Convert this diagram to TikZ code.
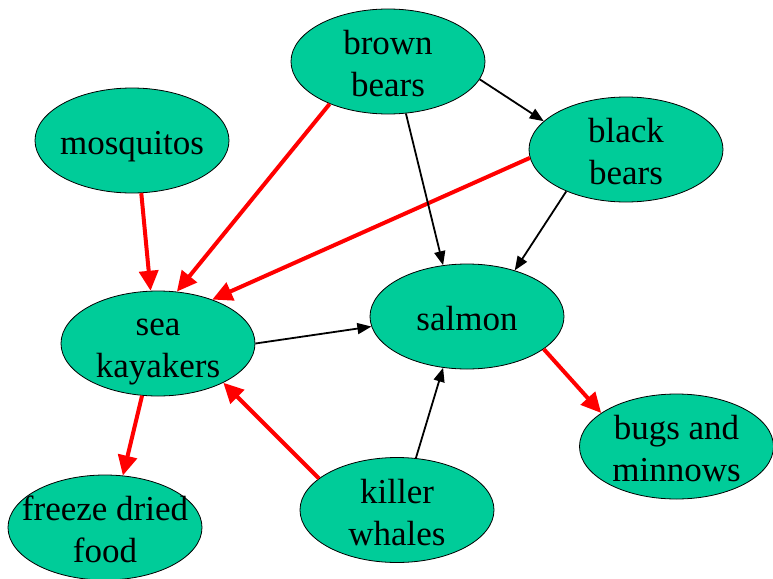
\documentclass[tikz,border=0pt]{standalone}
\usepackage{fontspec}
\setmainfont{Liberation Serif}
\usetikzlibrary{shapes.geometric,arrows.meta}
\definecolor{nodegreen}{RGB}{0,204,153}
\newcommand{\mystrut}{\rule[-6.5pt]{0pt}{38pt}}
\begin{document}
\begin{tikzpicture}[x=1pt,y=-1pt,
  ell/.style={ellipse, draw=black, line width=0.8pt, fill=nodegreen,
    minimum width=194pt, minimum height=105pt, inner sep=0pt},
  txt/.style={align=center, inner sep=0pt, yshift=-1.5pt, font=\fontsize{35}{42}\selectfont},
  redarrow/.style={draw=red, line width=4pt, -{Triangle[length=20pt,width=19pt]}},
  blackarrow/.style={draw=black, line width=1.8pt, -{Triangle[length=14pt,width=11pt]}}]
\useasboundingbox (0,0) rectangle (773,578);

\node[ell] (bb) at (388,61.5) {};
\node[txt] (bbt) at (bb) {\mystrut brown\\\mystrut bears};
\node[ell] (mq) at (132,140.5) {};
\node[txt] (mqt) at (mq) {\mystrut mosquitos};
\node[ell] (kb) at (626,149.5) {};
\node[txt] (kbt) at (kb) {\mystrut black\\\mystrut bears};
\node[ell] (sk) at (158,343.5) {};
\node[txt] (skt) at (sk) {\mystrut sea\\\mystrut kayakers};
\node[ell] (sa) at (467,316.5) {};
\node[txt] (sat) at (sa) {\mystrut salmon};
\node[ell] (bm) at (676.5,446.5) {};
\node[txt] (bmt) at (bm) {\mystrut bugs and\\\mystrut minnows};
\node[ell] (kw) at (397,510) {};
\node[txt] (kwt) at (kw) {\mystrut killer\\\mystrut whales};
\node[ell] (fd) at (105,527.5) {};
\node[txt] (fdt) at (fd) {\mystrut freeze dried\\\mystrut food};

\draw[redarrow] (bb.216) -- (sk.70.8);
\draw[redarrow] (mq.280.8) -- (sk.98.5);
\draw[redarrow] (kb.185) -- (sk.39);
\draw[blackarrow] (bb.-11.6) -- (kb.161.5);
\draw[blackarrow] (bb.-71.4) -- (sa.115.9);
\draw[blackarrow] (kb.215.7) -- (sa.44.7);
\draw[blackarrow] (sk.0) -- (sa.186.2);
\draw[redarrow] (kw.158.3) -- (sk.-31.3);
\draw[redarrow] (sk.253.4) -- (fd.71.1);
\draw[blackarrow] (kw.70.9) -- (sa.245.4);
\draw[redarrow] (sa.-23.9) -- (bm.156.6);
\end{tikzpicture}
\end{document}
